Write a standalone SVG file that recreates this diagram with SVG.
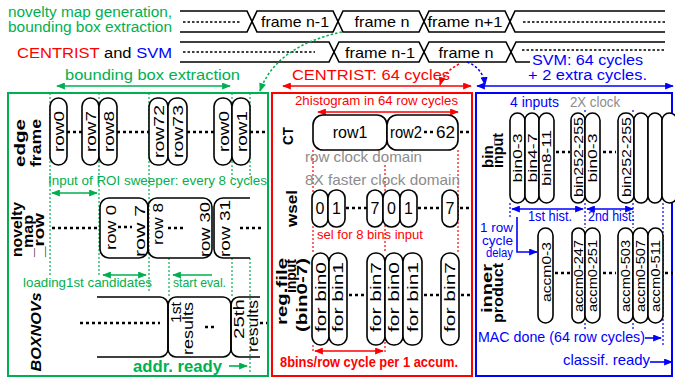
<svg xmlns="http://www.w3.org/2000/svg" width="675" height="379" viewBox="0 0 675 379">
<style>
text{font-family:"Liberation Sans",Arial,sans-serif}
.g{fill:#00b050}.r{fill:#ff0000}.b{fill:#0000ff}.k{fill:#000}.gr{fill:#8c8c8c}
.bus{fill:none;stroke:#000;stroke-width:1.6}
.fd{fill:none;stroke:#000;stroke-width:1.4;stroke-dasharray:2.5 2}
.dots{fill:none;stroke:#000;stroke-width:2.6;stroke-dasharray:3 3}
.pill{fill:#fff;stroke:#000;stroke-width:1.6}
.gd{fill:none;stroke:#00b050;stroke-width:1.2;stroke-dasharray:2 2}
.rd{fill:none;stroke:#ff0000;stroke-width:1.2;stroke-dasharray:2 2}
.bd{fill:none;stroke:#0000ff;stroke-width:1.2;stroke-dasharray:2 2}
.ga{fill:none;stroke:#00b050;stroke-width:1.6}
.ra{fill:none;stroke:#ff0000;stroke-width:1.6}
.ba{fill:none;stroke:#0000ff;stroke-width:1.6}
.lab{font-weight:bold;font-size:14px}
.pt{font-size:14px}
.ps{font-size:13px}
</style>
<defs>
<marker id="ag" viewBox="0 0 10 8" refX="9" refY="4" markerWidth="9" markerHeight="7" orient="auto-start-reverse" markerUnits="userSpaceOnUse"><path d="M0,0 L10,4 L0,8 z" fill="#00b050"/></marker>
<marker id="ar" viewBox="0 0 10 8" refX="9" refY="4" markerWidth="9" markerHeight="7" orient="auto-start-reverse" markerUnits="userSpaceOnUse"><path d="M0,0 L10,4 L0,8 z" fill="#ff0000"/></marker>
<marker id="ab" viewBox="0 0 10 8" refX="9" refY="4" markerWidth="9" markerHeight="7" orient="auto-start-reverse" markerUnits="userSpaceOnUse"><path d="M0,0 L10,4 L0,8 z" fill="#0000ff"/></marker>
</defs>
<rect width="675" height="379" fill="#fff"/>

<!-- top timeline -->
<g id="timeline">
<text class="g" x="8" y="17" font-size="14" textLength="164" lengthAdjust="spacingAndGlyphs">novelty map generation,</text>
<text class="g" x="8" y="32" font-size="14" textLength="164" lengthAdjust="spacingAndGlyphs">bounding box extraction</text>
<text x="17" y="58" font-size="15.5" textLength="155" lengthAdjust="spacingAndGlyphs"><tspan class="r">CENTRIST</tspan><tspan class="k"> and </tspan><tspan class="b">SVM</tspan></text>
<path class="bus" d="M180,11 H247 L257,32 H333 L343,11 H419 L429,32 H505 L515,11 H665"/>
<path class="bus" d="M180,32 H247 L257,11 H333 L343,32 H419 L429,11 H505 L515,32 H665"/>
<path class="fd" d="M183,22 H240 M523,22 H665"/>
<text x="295" y="27" font-size="15" text-anchor="middle" textLength="68" lengthAdjust="spacingAndGlyphs">frame n-1</text>
<text x="382" y="27" font-size="15" text-anchor="middle" textLength="55" lengthAdjust="spacingAndGlyphs">frame n</text>
<text x="465" y="27" font-size="15" text-anchor="middle" textLength="75" lengthAdjust="spacingAndGlyphs">frame n+1</text>
<path class="bus" d="M180,42 H329 L339,62 H419 L429,42 H506 L516,62 H530"/>
<path class="bus" d="M180,62 H329 L339,42 H419 L429,62 H506 L516,42 H665"/>
<path class="fd" d="M183,52 H315 M522,50 H665"/>
<text x="380" y="58" font-size="15" text-anchor="middle" textLength="70" lengthAdjust="spacingAndGlyphs">frame n-1</text>
<text x="466" y="58" font-size="15" text-anchor="middle" textLength="55" lengthAdjust="spacingAndGlyphs">frame n</text>
<text class="g" x="65" y="80" font-size="15" textLength="175" lengthAdjust="spacingAndGlyphs">bounding box extraction</text>
<text class="r" x="292" y="80" font-size="15" textLength="158" lengthAdjust="spacingAndGlyphs">CENTRIST: 64 cycles</text>
<text class="b" x="532" y="65" font-size="14" textLength="111" lengthAdjust="spacingAndGlyphs">SVM: 64 cycles</text>
<text class="b" x="528" y="80" font-size="14" textLength="119" lengthAdjust="spacingAndGlyphs">+ 2 extra cycles.</text>
</g>

<!-- panels -->
<g id="panels">
<rect x="8" y="93" width="260" height="283" fill="none" stroke="#00b050" stroke-width="2"/>
<rect x="272" y="93" width="200" height="283" fill="none" stroke="#ff0000" stroke-width="2"/>
<rect x="476" y="93" width="196" height="283" fill="none" stroke="#0000ff" stroke-width="2"/>
</g>

<!-- guide lines -->
<g id="guides">
<path class="gd" d="M50,93 V277 M99,93 V277 M149,93 V292 M169,258 V297 M232,93 V178 M232,258 V297 M250,93 V178 M250,258 V372"/>
<path class="rd" d="M313,150 V253 M313,345 V352 M385,165 V253 M385,342 V352 M458,150 V253"/>
<path class="bd" d="M510,203 V218 M585,110 V113 M585,203 V228 M585,323 V330 M633,110 V113 M633,203 V228 M633,323 V330 M663,203 V345"/>
</g>

<!-- connectors -->
<g id="connectors">
<line class="ga" x1="57" y1="86" x2="230" y2="86" marker-start="url(#ag)" marker-end="url(#ag)"/>
<line class="ra" x1="283" y1="86" x2="471" y2="86" marker-start="url(#ar)" marker-end="url(#ar)"/>
<line class="ba" x1="477" y1="86" x2="673" y2="86" marker-start="url(#ab)" marker-end="url(#ab)"/>
<path d="M342,32 Q276,46 260,91" fill="none" stroke="#00b050" stroke-width="1.5" stroke-dasharray="2.5 2" marker-end="url(#ag)"/>
<path d="M459,64 Q444,72 440,85" fill="none" stroke="#ff0000" stroke-width="1.5" stroke-dasharray="2.5 2" marker-end="url(#ar)"/>
<path d="M467,62 Q483,68 485,85" fill="none" stroke="#0000ff" stroke-width="1.5" stroke-dasharray="2.5 2" marker-end="url(#ab)"/>
<line class="ga" x1="52" y1="193" x2="97" y2="193" marker-start="url(#ag)" marker-end="url(#ag)"/>
<line class="ga" x1="103" y1="275" x2="146" y2="275" marker-start="url(#ag)" marker-end="url(#ag)"/>
<line class="ga" x1="212" y1="275" x2="173" y2="275" marker-end="url(#ag)"/>
<line class="ga" x1="229" y1="366" x2="247" y2="366" marker-end="url(#ag)"/>
<line class="ra" x1="318" y1="112" x2="458" y2="112" marker-start="url(#ar)" marker-end="url(#ar)"/>
<line class="ra" x1="315" y1="351" x2="383" y2="351" marker-start="url(#ar)" marker-end="url(#ar)"/>
<line class="ba" x1="512" y1="209" x2="583" y2="209" marker-start="url(#ab)" marker-end="url(#ab)"/>
<line class="ba" x1="587" y1="209" x2="633" y2="209" marker-start="url(#ab)" marker-end="url(#ab)"/>
<path class="ba" d="M517,217 V252 H537" marker-end="url(#ab)"/>
<line class="ba" x1="645" y1="338" x2="661" y2="338" marker-end="url(#ab)"/>
<line class="ba" x1="650" y1="362" x2="672" y2="362" marker-end="url(#ab)"/>
</g>

<!-- left panel -->
<g id="edge-frame">
<text class="lab" transform="translate(25,143) rotate(-90)" text-anchor="middle" font-size="15" textLength="48" lengthAdjust="spacingAndGlyphs">edge</text>
<text class="lab" transform="translate(41,143) rotate(-90)" text-anchor="middle" font-size="15" textLength="48" lengthAdjust="spacingAndGlyphs">frame</text>
<path class="dots" d="M67,132 H82 M117,132 H149 M187,132 H214 M250,132 H265"/>
<rect class="pill" x="50" y="98" width="17" height="67" rx="8.5"/>
<rect class="pill" x="82" y="98" width="17" height="67" rx="8.5"/>
<rect class="pill" x="99" y="98" width="18" height="67" rx="8.5"/>
<rect class="pill" x="149" y="98" width="19" height="67" rx="8.5"/>
<rect class="pill" x="168" y="98" width="19" height="67" rx="8.5"/>
<rect class="pill" x="214" y="98" width="18" height="67" rx="8.5"/>
<rect class="pill" x="232" y="98" width="18" height="67" rx="8.5"/>
<text class="pt" transform="translate(64,131.5) rotate(-90)" text-anchor="middle" textLength="41" lengthAdjust="spacingAndGlyphs">row0</text>
<text class="pt" transform="translate(96,131.5) rotate(-90)" text-anchor="middle" textLength="41" lengthAdjust="spacingAndGlyphs">row7</text>
<text class="pt" transform="translate(113.5,131.5) rotate(-90)" text-anchor="middle" textLength="41" lengthAdjust="spacingAndGlyphs">row8</text>
<text class="pt" transform="translate(164,131.5) rotate(-90)" text-anchor="middle" textLength="53" lengthAdjust="spacingAndGlyphs">row72</text>
<text class="pt" transform="translate(183,131.5) rotate(-90)" text-anchor="middle" textLength="53" lengthAdjust="spacingAndGlyphs">row73</text>
<text class="pt" transform="translate(228.5,131.5) rotate(-90)" text-anchor="middle" textLength="41" lengthAdjust="spacingAndGlyphs">row0</text>
<text class="pt" transform="translate(246.5,131.5) rotate(-90)" text-anchor="middle" textLength="41" lengthAdjust="spacingAndGlyphs">row1</text>
<text class="g" x="48" y="185" font-size="13" textLength="219" lengthAdjust="spacingAndGlyphs">Input of ROI sweeper: every 8 cycles</text>
</g>

<g id="novelty-map-row">
<text class="lab" transform="translate(22,257) rotate(-90)" font-size="13" textLength="55" lengthAdjust="spacingAndGlyphs">novelty</text>
<text class="lab" transform="translate(33,257) rotate(-90)" font-size="13" textLength="42" lengthAdjust="spacingAndGlyphs">_map</text>
<text class="lab" transform="translate(43.5,257) rotate(-90)" font-size="13" textLength="44" lengthAdjust="spacingAndGlyphs">_row</text>
<path class="dots" d="M52,228 H97 M118,227 H132 M168,228 H184 M240,228 H263"/>
<rect x="100" y="198" width="48" height="60" rx="9" fill="none" stroke="#000" stroke-width="1.6"/>
<rect x="148" y="198" width="64" height="60" rx="9" fill="none" stroke="#000" stroke-width="1.6"/>
<path d="M250,198 H223 A9,9 0 0 0 214,207 V249 A9,9 0 0 0 223,258 H250" fill="none" stroke="#000" stroke-width="1.6"/>
<text transform="translate(116,205) rotate(-90)" text-anchor="end" font-size="15" textLength="45" lengthAdjust="spacingAndGlyphs">row 0</text>
<text transform="translate(145,205) rotate(-90)" text-anchor="end" font-size="15" textLength="52" lengthAdjust="spacingAndGlyphs">row 7</text>
<text transform="translate(163,203) rotate(-90)" text-anchor="end" font-size="15" textLength="42" lengthAdjust="spacingAndGlyphs">row 8</text>
<text transform="translate(210,202) rotate(-90)" text-anchor="end" font-size="15" textLength="55" lengthAdjust="spacingAndGlyphs">row 30</text>
<text transform="translate(230,200) rotate(-90)" text-anchor="end" font-size="15" textLength="57" lengthAdjust="spacingAndGlyphs">row 31</text>
<text class="g" x="23" y="287" font-size="13" textLength="129" lengthAdjust="spacingAndGlyphs">loading1st candidates</text>
<text class="g" x="173" y="287" font-size="13" textLength="53" lengthAdjust="spacingAndGlyphs">start eval.</text>
</g>

<g id="boxnovs">
<text transform="translate(41,332) rotate(-90)" text-anchor="middle" font-size="15" font-weight="bold" font-style="italic" textLength="79" lengthAdjust="spacingAndGlyphs">BOXNOVs</text>
<path class="dots" d="M80,323 H160 M205,327 H214 M260,323 H267"/>
<path d="M97,297 H160 A8,8 0 0 1 168,305 V349 A8,8 0 0 1 160,357 H97" fill="none" stroke="#000" stroke-width="1.6"/>
<rect x="168" y="297" width="63" height="60" rx="8" fill="none" stroke="#000" stroke-width="1.6"/>
<path d="M260,297 H239 A8,8 0 0 0 231,305 V349 A8,8 0 0 0 239,357 H260" fill="none" stroke="#000" stroke-width="1.6"/>
<text transform="translate(181,302) rotate(-90)" text-anchor="end" font-size="14" textLength="21" lengthAdjust="spacingAndGlyphs">1st</text>
<text transform="translate(193,302) rotate(-90)" text-anchor="end" font-size="14" textLength="53" lengthAdjust="spacingAndGlyphs">results</text>
<text transform="translate(244,299) rotate(-90)" text-anchor="end" font-size="14" textLength="40" lengthAdjust="spacingAndGlyphs">25th</text>
<text transform="translate(258,300) rotate(-90)" text-anchor="end" font-size="14" textLength="52" lengthAdjust="spacingAndGlyphs">results</text>
<text class="g" x="133" y="372" font-size="16" font-weight="bold" textLength="89" lengthAdjust="spacingAndGlyphs">addr. ready</text>
</g>

<!-- middle panel -->
<g id="ct">
<text class="r" x="295" y="105" font-size="13" textLength="163" lengthAdjust="spacingAndGlyphs">2histogram in 64 row cycles</text>
<text class="lab" transform="translate(293,136) rotate(-90)" text-anchor="middle" textLength="18" lengthAdjust="spacingAndGlyphs">CT</text>
<rect x="313" y="115" width="74" height="35" rx="10" fill="#fff" stroke="#000" stroke-width="1.6"/>
<rect x="387" y="115" width="71" height="35" rx="10" fill="#fff" stroke="#000" stroke-width="1.6"/>
<text x="350" y="138" font-size="16" text-anchor="middle">row1</text>
<text x="390" y="138" font-size="16" textLength="32" lengthAdjust="spacingAndGlyphs">row2</text>
<path class="dots" d="M424,132 H436 M460,132 H471"/>
<text x="436" y="138" font-size="16" textLength="19" lengthAdjust="spacingAndGlyphs">62</text>
<text class="gr" x="305" y="162" font-size="15" textLength="117" lengthAdjust="spacingAndGlyphs">row clock domain</text>
<text class="gr" x="305" y="185" font-size="15" textLength="155" lengthAdjust="spacingAndGlyphs">8X faster clock domain</text>
</g>

<g id="wsel">
<text class="lab" transform="translate(297,208.5) rotate(-90)" text-anchor="middle" textLength="37" lengthAdjust="spacingAndGlyphs">wsel</text>
<path class="dots" d="M346,208 H367 M418,208 H442 M460,208 H471"/>
<rect class="pill" x="312" y="190" width="16" height="37" rx="8"/>
<rect class="pill" x="328" y="190" width="17" height="37" rx="8"/>
<rect class="pill" x="367" y="190" width="16" height="37" rx="8"/>
<rect class="pill" x="383" y="190" width="17" height="37" rx="8"/>
<rect class="pill" x="400" y="190" width="17" height="37" rx="8"/>
<rect class="pill" x="442" y="190" width="16" height="37" rx="8"/>
<g font-size="16" text-anchor="middle">
<text x="320" y="214">0</text><text x="336.5" y="214">1</text><text x="375" y="214">7</text>
<text x="391.5" y="214">0</text><text x="408.5" y="214">1</text><text x="450" y="214">7</text>
</g>
<text class="r" x="317" y="239" font-size="13" textLength="106" lengthAdjust="spacingAndGlyphs">sel for 8 bins input</text>
</g>

<g id="regfile">
<text class="lab" transform="translate(287,258) rotate(-90)" text-anchor="end" textLength="67" lengthAdjust="spacingAndGlyphs">reg.file</text>
<text class="lab" transform="translate(296,259) rotate(-90)" text-anchor="end" textLength="34" lengthAdjust="spacingAndGlyphs">input</text>
<text class="lab" transform="translate(307,258) rotate(-90)" text-anchor="end" textLength="74" lengthAdjust="spacingAndGlyphs">(bin0-7)</text>
<path class="dots" d="M349,295 H366 M424,295 H440 M461,295 H471"/>
<rect class="pill" x="312" y="253" width="17" height="92" rx="8.5"/>
<rect class="pill" x="329" y="253" width="18" height="92" rx="8.5"/>
<rect class="pill" x="367" y="253" width="18" height="92" rx="8.5"/>
<rect class="pill" x="385" y="253" width="18" height="92" rx="8.5"/>
<rect class="pill" x="403" y="253" width="19" height="92" rx="8.5"/>
<rect class="pill" x="441" y="253" width="18" height="92" rx="8.5"/>
<text class="pt" transform="translate(325.5,297) rotate(-90)" text-anchor="middle" textLength="70" lengthAdjust="spacingAndGlyphs">for bin0</text>
<text class="pt" transform="translate(343,297) rotate(-90)" text-anchor="middle" textLength="70" lengthAdjust="spacingAndGlyphs">for bin1</text>
<text class="pt" transform="translate(381,297) rotate(-90)" text-anchor="middle" textLength="70" lengthAdjust="spacingAndGlyphs">for bin7</text>
<text class="pt" transform="translate(399,297) rotate(-90)" text-anchor="middle" textLength="70" lengthAdjust="spacingAndGlyphs">for bin0</text>
<text class="pt" transform="translate(417.5,297) rotate(-90)" text-anchor="middle" textLength="70" lengthAdjust="spacingAndGlyphs">for bin1</text>
<text class="pt" transform="translate(455,297) rotate(-90)" text-anchor="middle" textLength="70" lengthAdjust="spacingAndGlyphs">for bin7</text>
<text class="r" x="280" y="367" font-size="14" font-weight="bold" textLength="178" lengthAdjust="spacingAndGlyphs">8bins/row cycle per 1 accum.</text>
</g>

<!-- right panel -->
<g id="bin-input">
<text class="b" x="510" y="107" font-size="14" textLength="49" lengthAdjust="spacingAndGlyphs">4 inputs</text>
<text class="gr" x="570" y="107" font-size="14" textLength="50" lengthAdjust="spacingAndGlyphs">2X clock</text>
<text class="lab" transform="translate(493,168) rotate(-90)" textLength="31" lengthAdjust="spacingAndGlyphs">bin_</text>
<text class="lab" transform="translate(503,168) rotate(-90)" textLength="35" lengthAdjust="spacingAndGlyphs">input</text>
<path class="dots" d="M556,152 H570 M603,152 H616"/>
<rect class="pill" x="510" y="113" width="15" height="90" rx="7.5"/>
<rect class="pill" x="525" y="113" width="14" height="90" rx="7"/>
<rect class="pill" x="539" y="113" width="15" height="90" rx="7.5"/>
<rect class="pill" x="571" y="113" width="14" height="90" rx="7"/>
<rect class="pill" x="585" y="113" width="15" height="90" rx="7.5"/>
<rect class="pill" x="618" y="113" width="16" height="90" rx="7.5"/>
<rect class="pill" x="634" y="113" width="14" height="90" rx="7"/>
<rect class="pill" x="648" y="113" width="14" height="90" rx="7"/>
<rect class="pill" x="662" y="113" width="15" height="90" rx="7.5"/>
<text class="ps" transform="translate(522,158) rotate(-90)" text-anchor="middle" textLength="49" lengthAdjust="spacingAndGlyphs">bin0-3</text>
<text class="ps" transform="translate(536.5,158) rotate(-90)" text-anchor="middle" textLength="49" lengthAdjust="spacingAndGlyphs">bin4-7</text>
<text class="ps" transform="translate(551,158) rotate(-90)" text-anchor="middle" textLength="56" lengthAdjust="spacingAndGlyphs">bin8-11</text>
<text class="ps" transform="translate(582.5,157) rotate(-90)" text-anchor="middle" textLength="80" lengthAdjust="spacingAndGlyphs">bin252-255</text>
<text class="ps" transform="translate(597,158) rotate(-90)" text-anchor="middle" textLength="49" lengthAdjust="spacingAndGlyphs">bin0-3</text>
<text class="ps" transform="translate(630.5,157) rotate(-90)" text-anchor="middle" textLength="80" lengthAdjust="spacingAndGlyphs">bin252-255</text>
<text class="b" x="528" y="221" font-size="14" textLength="44" lengthAdjust="spacingAndGlyphs">1st hist.</text>
<text class="b" x="588" y="221" font-size="14" textLength="47" lengthAdjust="spacingAndGlyphs">2nd hist.</text>
<g class="b" font-size="12" text-anchor="end">
<text x="513" y="232" textLength="33" lengthAdjust="spacingAndGlyphs">1 row</text>
<text x="513" y="244.5" textLength="31" lengthAdjust="spacingAndGlyphs">cycle</text>
<text x="513" y="257" textLength="27" lengthAdjust="spacingAndGlyphs">delay</text>
</g>
</g>

<g id="inner-product">
<text class="lab" transform="translate(492,264) rotate(-90)" text-anchor="end" textLength="49" lengthAdjust="spacingAndGlyphs">inner</text>
<text class="lab" transform="translate(503,263) rotate(-90)" text-anchor="end" textLength="60" lengthAdjust="spacingAndGlyphs">product</text>
<path class="dots" d="M555,273 H570 M603,273 H616 M665,273 H673"/>
<rect class="pill" x="538" y="228" width="15" height="95" rx="7.5"/>
<rect class="pill" x="572" y="228" width="13" height="95" rx="6.5"/>
<rect class="pill" x="585" y="228" width="15" height="95" rx="7.5"/>
<rect class="pill" x="618" y="228" width="15" height="95" rx="7.5"/>
<rect class="pill" x="633" y="228" width="15" height="95" rx="7.5"/>
<rect class="pill" x="648" y="228" width="15" height="95" rx="7.5"/>
<text class="ps" transform="translate(550.5,272) rotate(-90)" text-anchor="middle" textLength="60" lengthAdjust="spacingAndGlyphs">accm0-3</text>
<text class="ps" transform="translate(583,276) rotate(-90)" text-anchor="middle" textLength="72" lengthAdjust="spacingAndGlyphs">accm0-247</text>
<text class="ps" transform="translate(597,276) rotate(-90)" text-anchor="middle" textLength="72" lengthAdjust="spacingAndGlyphs">accm0-251</text>
<text class="ps" transform="translate(630,276) rotate(-90)" text-anchor="middle" textLength="72" lengthAdjust="spacingAndGlyphs">accm0-503</text>
<text class="ps" transform="translate(645,276) rotate(-90)" text-anchor="middle" textLength="72" lengthAdjust="spacingAndGlyphs">accm0-507</text>
<text class="ps" transform="translate(660,276) rotate(-90)" text-anchor="middle" textLength="72" lengthAdjust="spacingAndGlyphs">accm0-511</text>
<text class="b" x="478" y="342" font-size="15" textLength="167" lengthAdjust="spacingAndGlyphs">MAC done (64 row cycles)</text>
<text class="b" x="563" y="365" font-size="15" textLength="87" lengthAdjust="spacingAndGlyphs">classif. ready</text>
</g>
</svg>
